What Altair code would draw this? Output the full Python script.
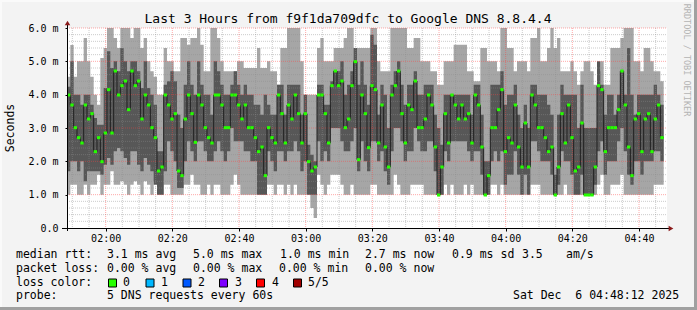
import altair as alt
import pandas as pd

# ---------------- data ----------------
T0 = 108.4  # minutes after midnight at the left edge of the plot (01:48:24)

median = [3.99, 3.69, 3.01, 2.71, 2.55, 3.69, 3.27, 3.43, 2.29, 2.71,
          1.99, 2.85, 4.15, 2.85, 4.71, 3.99, 4.27, 4.41, 3.55, 4.71,
          4.27, 4.41, 3.27, 3.99, 3.69, 3.01, 2.71, 1.71, 1.83, 3.99,
          3.69, 3.27, 3.43, 1.71, 1.57, 3.27, 3.99, 3.43, 2.57, 3.99,
          3.69, 3.01, 2.71, 2.55, 3.99, 3.99, 3.69, 3.01, 3.01, 3.99,
          3.99, 3.69, 3.27, 3.69, 3.01, 3.01, 2.71, 2.29, 2.43, 1.57,
          3.01, 2.71, 2.55, 3.99, 3.43, 2.55, 3.69, 3.27, 3.99, 3.43,
          2.55, 3.43, 1.99, 1.71, 1.83, 3.99, 3.99, 3.43, 2.55, 4.27,
          4.71, 4.27, 4.41, 3.01, 3.27, 4.27, 4.99, 2.05, 3.99, 3.43,
          2.41, 4.27, 4.15, 2.55, 3.69, 2.43, 1.83, 3.99, 4.27, 4.71,
          3.43, 2.55, 3.69, 3.55, 4.41, 3.01, 3.01, 3.27, 3.99, 3.69,
          2.43, 0.99, 1.83, 3.43, 2.55, 3.99, 3.69, 3.27, 3.69, 3.27,
          3.43, 2.55, 3.99, 3.69, 2.43, 0.99, 1.57, 3.01, 3.01, 3.55,
          4.15, 2.29, 2.71, 2.55, 3.69, 2.43, 1.83, 3.15, 1.83, 3.99,
          3.69, 3.01, 3.01, 2.71, 2.29, 2.43, 0.99, 1.83, 3.43, 2.55,
          3.69, 2.71, 1.71, 1.83, 3.15, 0.99, 0.99, 0.99, 1.83, 4.27,
          4.15, 2.29, 3.01, 3.01, 3.01, 3.55, 4.71, 3.69, 2.43, 1.57,
          3.27, 3.43, 2.29, 3.27, 3.43, 2.29, 3.27, 3.69, 2.71]

hi_light = [4.54, 5.49, 4.54, 5.0, 5.0, 5.7, 5.0, 4.54, 4.0, 3.7,
            5.1, 5.4, 6.0, 6.0, 5.7, 5.4, 6.0, 6.0, 6.0, 5.7,
            6.0, 6.0, 5.4, 5.7, 5.0, 4.7, 4.54, 4.0, 4.0, 5.4,
            5.0, 5.0, 4.7, 4.7, 5.7, 5.7, 5.5, 5.7, 5.7, 6.0,
            5.5, 4.7, 4.7, 6.0, 6.0, 5.7, 5.0, 4.7, 4.7, 4.7,
            4.7, 5.0, 5.0, 4.8, 4.8, 4.8, 4.8, 5.4, 4.8, 4.8,
            5.0, 4.7, 4.7, 4.3, 5.4, 5.4, 6.0, 6.0, 6.0, 6.0,
            5.0, 4.0, 4.0, 4.0, 4.0, 5.4, 5.7, 5.0, 5.0, 5.0,
            5.4, 5.4, 5.4, 5.7, 6.0, 6.0, 5.4, 5.4, 5.4, 5.4,
            5.4, 6.0, 6.0, 5.0, 4.7, 4.7, 4.7, 6.0, 6.0, 6.0,
            6.0, 6.0, 5.4, 5.4, 5.7, 5.7, 5.0, 5.0, 5.0, 4.7,
            4.7, 4.3, 4.3, 5.0, 5.0, 5.0, 5.5, 5.5, 5.5, 5.5,
            4.7, 4.7, 4.4, 4.4, 5.4, 5.4, 5.0, 5.0, 5.0, 4.7,
            6.0, 6.0, 5.4, 5.4, 4.7, 5.0, 5.0, 5.0, 4.7, 5.7,
            5.7, 6.0, 5.0, 5.0, 5.4, 6.0, 5.4, 5.7, 4.7, 4.7,
            4.7, 5.0, 4.7, 4.3, 4.7, 5.0, 5.0, 4.7, 4.3, 4.7,
            5.0, 4.3, 4.3, 5.4, 5.4, 5.4, 5.7, 6.0, 6.0, 6.0,
            5.0, 5.0, 4.7, 5.4, 5.4, 5.0, 4.7, 4.7, 4.4]

hi_dark = [4.24, 5.0, 4.0, 4.0, 3.7, 4.0, 4.0, 3.7, 3.3, 3.1,
           3.1, 4.2, 5.3, 4.8, 5.0, 4.7, 5.4, 5.0, 4.7, 5.0,
           5.0, 4.7, 4.2, 5.0, 4.2, 4.0, 3.7, 2.3, 2.3, 4.3,
           4.4, 4.7, 4.4, 3.4, 3.0, 4.3, 5.0, 4.3, 4.0, 5.0,
           4.3, 4.0, 4.0, 3.4, 5.0, 4.7, 4.3, 4.0, 4.0, 4.3,
           4.7, 4.3, 4.0, 4.3, 4.0, 4.0, 3.7, 3.7, 3.4, 4.0,
           3.7, 3.4, 3.4, 4.3, 4.3, 3.4, 4.3, 4.3, 4.3, 4.3,
           3.4, 4.0, 2.5, 2.2, 2.0, 4.3, 4.3, 3.7, 3.7, 4.4,
           4.7, 4.7, 5.0, 4.0, 4.3, 4.7, 5.4, 4.3, 5.0, 4.3,
           3.7, 5.8, 5.5, 3.4, 4.3, 4.0, 3.0, 4.3, 4.7, 5.0,
           4.3, 3.7, 4.3, 4.3, 4.7, 4.0, 4.0, 4.3, 4.3, 4.3,
           3.4, 3.0, 2.5, 4.0, 4.0, 4.0, 4.0, 4.0, 4.0, 4.0,
           4.0, 3.4, 4.3, 4.3, 3.4, 2.0, 2.0, 4.3, 4.3, 4.3,
           4.7, 3.7, 4.0, 4.0, 4.3, 3.4, 3.0, 3.7, 3.0, 4.3,
           4.3, 4.0, 4.0, 4.0, 3.7, 3.4, 1.6, 3.4, 4.3, 4.0,
           4.0, 4.0, 4.0, 3.0, 4.3, 3.0, 3.0, 3.0, 3.0, 5.0,
           4.3, 3.4, 4.0, 4.0, 3.4, 4.0, 4.7, 4.0, 5.4, 4.0,
           3.4, 4.0, 4.0, 4.0, 4.0, 4.0, 4.3, 4.0, 3.7]

lo_dark = [1.7, 2.0, 2.0, 1.7, 2.0, 1.4, 1.7, 1.7, 1.7, 1.7,
           1.6, 1.9, 2.1, 1.9, 2.3, 2.4, 2.3, 2.1, 1.9, 2.3,
           2.3, 1.9, 1.7, 2.1, 1.9, 1.7, 1.3, 1.0, 1.0, 1.7,
           2.6, 2.3, 2.0, 1.2, 1.2, 2.0, 2.6, 2.3, 2.0, 2.6,
           2.6, 2.3, 2.0, 2.0, 2.3, 2.6, 2.3, 2.0, 2.3, 3.0,
           2.6, 2.6, 2.6, 2.3, 2.3, 2.0, 2.0, 1.0, 1.0, 1.0,
           2.3, 2.0, 1.7, 2.3, 2.3, 2.0, 2.3, 2.3, 2.6, 2.3,
           1.7, 2.0, 1.0, 1.0, 1.0, 2.6, 2.0, 2.3, 2.0, 3.0,
           3.0, 3.0, 2.6, 2.3, 2.3, 2.6, 3.0, 1.7, 2.6, 2.0,
           1.7, 2.6, 2.6, 2.0, 2.3, 1.7, 1.3, 2.3, 3.0, 3.0,
           2.6, 2.0, 2.3, 2.3, 3.0, 2.6, 2.3, 2.3, 2.6, 2.6,
           1.7, 0.99, 1.0, 2.3, 2.0, 2.6, 2.6, 2.6, 2.6, 2.6,
           2.3, 2.0, 2.3, 2.3, 1.6, 0.99, 1.0, 2.0, 2.3, 2.0,
           2.3, 1.3, 1.6, 1.6, 2.3, 1.6, 1.0, 1.6, 1.0, 2.6,
           2.6, 2.3, 2.0, 2.0, 2.0, 1.6, 0.99, 1.3, 2.3, 2.0,
           2.0, 1.6, 1.0, 1.0, 1.6, 0.99, 0.99, 0.99, 1.3, 2.3,
           2.6, 1.6, 2.0, 2.0, 2.0, 2.6, 3.0, 2.3, 1.6, 1.3,
           2.0, 2.0, 1.6, 2.0, 2.0, 2.0, 2.3, 2.3, 2.0]

lo_light = [1.0, 1.3, 1.3, 1.0, 1.0, 1.3, 1.0, 1.3, 1.3, 1.6,
            1.0, 1.3, 1.3, 1.7, 1.3, 1.3, 1.4, 1.3, 1.0, 1.3,
            1.4, 1.3, 1.0, 1.4, 1.3, 1.0, 1.4, 1.0, 1.0, 1.3,
            1.3, 1.0, 1.0, 1.0, 1.0, 1.3, 1.3, 1.6, 1.3, 1.3,
            1.0, 1.0, 1.3, 1.0, 1.3, 1.3, 1.0, 1.0, 1.0, 1.3,
            1.6, 1.3, 1.0, 1.0, 1.0, 1.0, 1.0, 1.0, 1.0, 1.0,
            1.3, 1.3, 1.0, 1.3, 1.3, 1.0, 1.3, 1.0, 1.3, 1.0,
            1.0, 1.0, 1.0, 0.6, 0.3, 1.6, 1.3, 1.0, 1.3, 1.6,
            1.6, 1.6, 1.3, 1.0, 1.0, 1.3, 1.0, 1.0, 1.0, 1.0,
            1.0, 1.3, 1.3, 1.0, 1.0, 1.0, 1.0, 1.0, 1.6, 1.3,
            1.0, 1.0, 1.0, 1.3, 1.3, 1.3, 1.3, 1.0, 1.0, 1.0,
            1.0, 0.99, 1.0, 1.3, 1.0, 1.3, 1.0, 1.0, 1.0, 1.3,
            1.0, 1.3, 1.0, 1.0, 1.0, 0.99, 1.0, 1.3, 1.3, 1.0,
            1.3, 1.0, 1.0, 1.0, 1.0, 1.0, 1.0, 1.0, 1.0, 1.3,
            1.3, 1.3, 1.0, 1.0, 1.0, 1.0, 0.99, 1.0, 1.0, 1.3,
            1.0, 1.0, 1.0, 1.0, 1.0, 0.99, 0.99, 0.99, 1.0, 1.3,
            1.6, 1.0, 1.0, 1.3, 1.3, 1.3, 1.6, 1.0, 1.0, 1.0,
            1.0, 1.0, 1.0, 1.0, 1.0, 1.0, 1.3, 1.3, 1.3]

x_tick_minutes = [120, 140, 160, 180, 200, 220, 240, 260, 280]
y_tick_values = [0, 1, 2, 3, 4, 5, 6]

title_text = "Last 3 Hours from f9f1da709dfc to Google DNS 8.8.4.4"
legend_rows = [
    ["median rtt:", "3.1 ms avg", "5.0 ms max", "1.0 ms min", "2.7 ms now", "0.9 ms sd", "3.5", "am/s"],
    ["packet loss:", "0.00 % avg", "0.00 % max", "0.00 % min", "0.00 % now"],
]
loss_labels = ["0", "1", "2", "3", "4", "5/5"]
loss_colors = ["#26ff00", "#00b8ff", "#0059ff", "#7e00ff", "#ff0000", "#a10000"]
probe_text = "5 DNS requests every 60s"
date_text = "Sat Dec\u00a0\u00a06 04:48:12 2025"

# ---------------- layout constants ----------------
PL, PT, PW, PH = 67, 28, 600, 200
W, H = 697, 310
FONT = "DejaVu Sans Mono"

n = len(median)
rows = []
for i in range(n):
    rows.append(dict(t=T0 + i, t2=T0 + i + 1, med=median[i], l1=lo_light[i],
                     l2=lo_dark[i], h4=hi_dark[i], h5=hi_light[i]))
df = pd.DataFrame(rows)
last = dict(rows[-1]); last["t"] = T0 + n
df_area = pd.DataFrame(rows + [last])

xs = alt.Scale(domain=[T0, T0 + 180], nice=False, zero=False)
ys = alt.Scale(domain=[0, 6], nice=False)

xaxis = alt.Axis(values=x_tick_minutes, grid=False, domain=False, tickSize=3,
                 tickColor="#000000", labelFont=FONT, labelFontSize=10, labelColor="#000000",
                 labelPadding=2, title=None, labelOverlap=False,
                 labelExpr="format(floor(datum.value/60),'02d') + ':' + format(datum.value%60,'02d')")
yaxis = alt.Axis(values=y_tick_values, grid=False, domain=False, tickSize=2,
                 tickColor="#000000", labelFont=FONT, labelFontSize=10, labelColor="#000000",
                 labelPadding=7, title=None, labelOverlap=False, labelFlush=False,
                 labelExpr="datum.value == 0 ? '0.0' : format(datum.value, '.1f') + ' m'")


def X(field, **kw):
    return alt.X(field, scale=xs, axis=xaxis, **kw)


def Y(field, **kw):
    return alt.Y(field, scale=ys, axis=yaxis, **kw)


light = alt.Chart(df_area).mark_area(interpolate="step-after", color="#a6a6a6", orient="vertical").encode(
    x=X("t:Q"), y=Y("l1:Q"), y2="h5:Q")
dark = alt.Chart(df_area).mark_area(interpolate="step-after", color="#575757", orient="vertical").encode(
    x=X("t:Q"), y=Y("l2:Q"), y2="h4:Q")

# grid
minor_y = [round(v * 0.2, 1) for v in range(1, 30) if v % 5 != 0]
major_y = [1, 2, 3, 4, 5, 6]
minor_x = [m for m in range(110, 290, 5) if m % 20 != 0]
major_x = x_tick_minutes

g_minor_y = alt.Chart(pd.DataFrame({"v": minor_y})).mark_rule(
    color="#8c8c8c", opacity=0.45, strokeDash=[1, 1], strokeWidth=1).encode(
    y=Y("v:Q"), x=alt.value(0), x2=alt.value(PW))
g_major_y = alt.Chart(pd.DataFrame({"v": major_y})).mark_rule(
    color="#ff4040", opacity=0.45, strokeDash=[1, 1], strokeWidth=1).encode(
    y=Y("v:Q"), x=alt.value(0), x2=alt.value(PW))
g_minor_x = alt.Chart(pd.DataFrame({"v": minor_x})).mark_rule(
    color="#8c8c8c", opacity=0.45, strokeDash=[1, 1], strokeWidth=1).encode(
    x=X("v:Q"), y=alt.value(0), y2=alt.value(PH))
g_major_x = alt.Chart(pd.DataFrame({"v": major_x})).mark_rule(
    color="#ff4040", opacity=0.45, strokeDash=[1, 1], strokeWidth=1).encode(
    x=X("v:Q"), y=alt.value(0), y2=alt.value(PH))

med_line = alt.Chart(df_area).mark_line(interpolate="step-after", color="#202020", strokeWidth=1).encode(
    x=X("t:Q"), y=Y("med:Q"))
med_tick = alt.Chart(df).mark_rule(color=loss_colors[0], strokeWidth=3).encode(
    x=X("t:Q"), x2="t2:Q", y=Y("med:Q"))

# axes lines + arrows
x_axis_line = alt.Chart(pd.DataFrame({"a": [0]})).mark_rule(color="#000000", strokeWidth=1).encode(
    x=alt.value(-5), x2=alt.value(PW + 2), y=alt.value(PH + 0.5))
y_axis_line = alt.Chart(pd.DataFrame({"a": [0]})).mark_rule(color="#000000", strokeWidth=1).encode(
    x=alt.value(0.5), y=alt.value(-4), y2=alt.value(PH + 3))
arrow_up = alt.Chart(pd.DataFrame({"a": [0]})).mark_point(
    shape="triangle-up", filled=True, color="#8b1a1a", size=30, opacity=1).encode(
    x=alt.value(0.5), y=alt.value(-5))
arrow_right = alt.Chart(pd.DataFrame({"a": [0]})).mark_point(
    shape="triangle-right", filled=True, color="#8b1a1a", size=30, opacity=1).encode(
    x=alt.value(PW + 4), y=alt.value(PH + 0.5))

# frame
frame = pd.DataFrame([
    dict(x=0, x2=W, y=0, y2=2, c="#fafafa"),
    dict(x=0, x2=2, y=0, y2=H, c="#fafafa"),
    dict(x=0, x2=W, y=H - 3, y2=H, c="#a0a0a0"),
    dict(x=W - 3, x2=W, y=0, y2=H, c="#a0a0a0"),
])
frame["x"] -= PL; frame["x2"] -= PL; frame["y"] -= PT; frame["y2"] -= PT
frame_layer = alt.Chart(frame).mark_rect().encode(
    x=alt.X("x:Q", scale=None), x2="x2:Q", y=alt.Y("y:Q", scale=None), y2="y2:Q",
    color=alt.Color("c:N", scale=None))

# texts (left aligned)
seg_x = [16, 107, 193, 280, 365, 452, 522, 566]
seg_x2 = [16, 107, 193, 279, 365]
row_y = [255, 268.5, 282.5, 296]
texts = []
for s, x in zip(legend_rows[0], seg_x):
    texts.append(dict(t=s, x=x, y=row_y[0]))
for s, x in zip(legend_rows[1], seg_x2):
    texts.append(dict(t=s, x=x, y=row_y[1]))
texts.append(dict(t="loss color:", x=16, y=row_y[2]))
lab_x = [123, 161, 198, 235, 272, 308]
for s, x in zip(loss_labels, lab_x):
    texts.append(dict(t=s, x=x, y=row_y[2]))
texts.append(dict(t="probe:", x=16, y=row_y[3]))
texts.append(dict(t=probe_text, x=107, y=row_y[3]))
texts.append(dict(t=date_text, x=513, y=row_y[3]))
tdf = pd.DataFrame(texts)
tdf["x"] -= PL; tdf["y"] -= PT
text_layer = alt.Chart(tdf).mark_text(align="left", baseline="middle", font=FONT, fontSize=11.5,
                                      color="#000000").encode(
    x=alt.X("x:Q", scale=None), y=alt.Y("y:Q", scale=None), text="t:N")

sq_x = [108.5, 146, 183, 219.5, 256.5, 293.5]
sq = pd.DataFrame({"x": [v - PL for v in sq_x], "c": loss_colors})
sq["x2"] = sq["x"] + 8
sq["y"] = 279 - PT
sq["y2"] = 287 - PT
sq_layer = alt.Chart(sq).mark_rect(stroke="#000000", strokeWidth=1).encode(
    x=alt.X("x:Q", scale=None), x2="x2:Q", y=alt.Y("y:Q", scale=None), y2="y2:Q",
    color=alt.Color("c:N", scale=None))

title_layer = alt.Chart(pd.DataFrame({"t": [title_text]})).mark_text(
    align="center", baseline="middle", font=FONT, fontSize=13, color="#000000").encode(
    x=alt.value(348 - PL), y=alt.value(18.5 - PT), text="t:N")
ylabel_layer = alt.Chart(pd.DataFrame({"t": ["Seconds"]})).mark_text(
    align="center", baseline="middle", font=FONT, fontSize=11.5, color="#000000", angle=270).encode(
    x=alt.value(11 - PL), y=alt.value(128 - PT), text="t:N")
rrd_layer = alt.Chart(pd.DataFrame({"t": ["RRDTOOL / TOBI OETIKER"]})).mark_text(
    align="center", baseline="middle", font=FONT, fontSize=8.5, color="#b4b4b4", angle=90).encode(
    x=alt.value(687 - PL), y=alt.value(60 - PT), text="t:N")

chart = alt.layer(
    frame_layer, light, dark, g_minor_y, g_minor_x, g_major_y, g_major_x,
    med_line, med_tick, x_axis_line, y_axis_line, arrow_up, arrow_right,
    text_layer, sq_layer, title_layer, ylabel_layer, rrd_layer
).properties(
    width=PW, height=PH,
    autosize=alt.AutoSizeParams(type="none"),
    padding={"left": PL, "top": PT, "right": W - PL - PW, "bottom": H - PT - PH},
    background="#f3f3f3",
).configure_view(fill="#ffffff", stroke=None)

chart.save("out.html", embed_options={"renderer": "svg", "actions": False})
